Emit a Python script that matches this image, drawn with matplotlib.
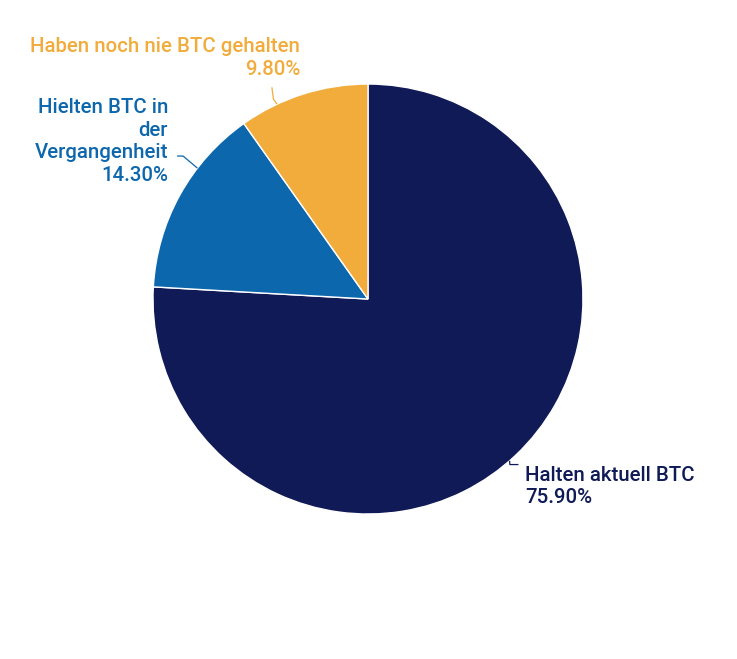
import numpy as np
import matplotlib.pyplot as plt

plt.rcParams['font.family'] = ['Roboto', 'DejaVu Sans']

labels = ['Halten aktuell BTC', 'Hielten BTC in\nder\nVergangenheit', 'Haben noch nie BTC gehalten']
values = [75.9, 14.3, 9.8]
colors = ['#0f1a56', '#0d67ad', '#f2ac3c']

# label anchor (data coords), alignment
text_pos = [(0.73, -0.872, 'left'), (-0.93, 0.733, 'right'), (-0.316, 1.121, 'right')]
# connector: angle on the rim, then points towards the label
conn_angle = [-48.8, 142.5, 115.0]
conn_pts = [[(0.66, -0.77), (0.70, -0.77)],
            [(-0.86, 0.665), (-0.888, 0.665)],
            [(-0.44, 0.93), (-0.447, 0.985)]]

fig = plt.figure(figsize=(7.37, 6.59), dpi=100)
fig.set_facecolor('white')
ax = fig.add_axes([0.2076, 0.22, 0.5834, 0.6525])

wedges, _ = ax.pie(values, colors=colors, startangle=90, counterclock=False,
                   radius=1, wedgeprops=dict(edgecolor='white', linewidth=1))

for lab, v, c, (tx, ty, ha), a, pts in zip(labels, values, colors, text_pos, conn_angle, conn_pts):
    r = np.deg2rad(a)
    xs = [np.cos(r)] + [p[0] for p in pts]
    ys = [np.sin(r)] + [p[1] for p in pts]
    ax.plot(xs, ys, color=c, lw=0.9, solid_capstyle='butt', clip_on=False)
    ax.text(tx, ty, f'{lab}\n{v:.2f}%', ha=ha, va='center', color=c,
            fontsize=14.7, fontweight='medium', linespacing=1.24)

ax.set_xlim(-1, 1)
ax.set_ylim(-1, 1)
ax.set_aspect('equal')
ax.axis('off')

fig.savefig('out.png', dpi=100, facecolor='white')
